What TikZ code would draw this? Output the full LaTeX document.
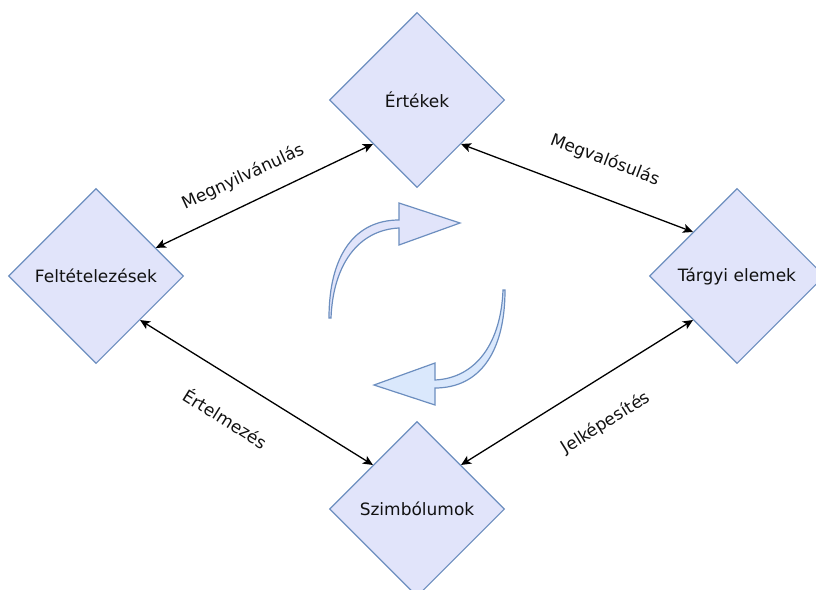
\documentclass[tikz,border=0pt]{standalone}
\usepackage{fontspec}
\setmainfont{DejaVu Sans}
\usetikzlibrary{shapes.geometric,arrows.meta,calc}
\definecolor{lav}{HTML}{E1E4FA}
\definecolor{lblue}{HTML}{DAE8FC}
\definecolor{strk}{HTML}{6C8EBF}
\definecolor{txt}{HTML}{111111}
\begin{document}
\begin{tikzpicture}[x=1pt,y=-1pt,
  dia/.style={diamond, aspect=1, draw=strk, fill=lav, line width=1.1pt,
    minimum width=175pt, minimum height=175pt, inner sep=0pt,
    font=\fontsize{17}{20}\selectfont, text=txt},
  conn/.style={{Stealth[length=10pt,width=9pt,inset=2.5pt]}-{Stealth[length=10pt,width=9pt,inset=2.5pt]},
    line width=1.3pt, draw=black},
  lbl/.style={font=\fontsize{17}{20}\selectfont, inner sep=0pt, text=txt},
  flex/.style={draw=strk, line width=1.2pt, line join=miter}]
\useasboundingbox (0,0) rectangle (816,589);
\clip (0,0) rectangle (816,589);

% diamonds
\node[dia] (F) at (96,276) {Feltételezések};
\node[dia] (E) at (417,100) {Értékek};
\node[dia] (T) at (737,276) {Tárgyi elemek};
\node[dia] (S) at (417,509) {Szimbólumok};

% connector end points on the diamond borders
\coordinate (F1) at ($(F.north)!0.68!(F.east)$);
\coordinate (F2) at ($(F.east)!0.5!(F.south)$);
\coordinate (E1) at ($(E.west)!0.5!(E.south)$);
\coordinate (E2) at ($(E.east)!0.5!(E.south)$);
\coordinate (T1) at ($(T.north)!0.5!(T.west)$);
\coordinate (T2) at ($(T.west)!0.5!(T.south)$);
\coordinate (S1) at ($(S.west)!0.5!(S.north)$);
\coordinate (S2) at ($(S.north)!0.5!(S.east)$);

\draw[conn] (F1) -- (E1);
\draw[conn] (E2) -- (T1);
\draw[conn] (F2) -- (S1);
\draw[conn] (S2) -- (T2);

% connector labels
\node[lbl, rotate=25] (l1) at (243,177) {Megnyilvánulás};
\node[lbl, rotate=-21] (l2) at (605,160) {Megvalósulás};
\node[lbl, rotate=-32] (l3) at (226,418) {Értelmezés};
\node[lbl, rotate=32] (l4) at (606,423) {Jelképesítés};

% curved cycle arrows
\path[flex, fill=lav] (329,318) .. controls (329,255) and (355,220) .. (399,220)
  -- (399,203) -- (460,223) -- (399,245) -- (399,228)
  .. controls (358,230) and (333,265) .. (331,318) -- cycle;
\begin{scope}[rotate around={180:(417,304)}]
\path[flex, fill=lblue] (329,318) .. controls (329,255) and (355,220) .. (399,220)
  -- (399,203) -- (460,223) -- (399,245) -- (399,228)
  .. controls (358,230) and (333,265) .. (331,318) -- cycle;
\end{scope}
\end{tikzpicture}
\end{document}
